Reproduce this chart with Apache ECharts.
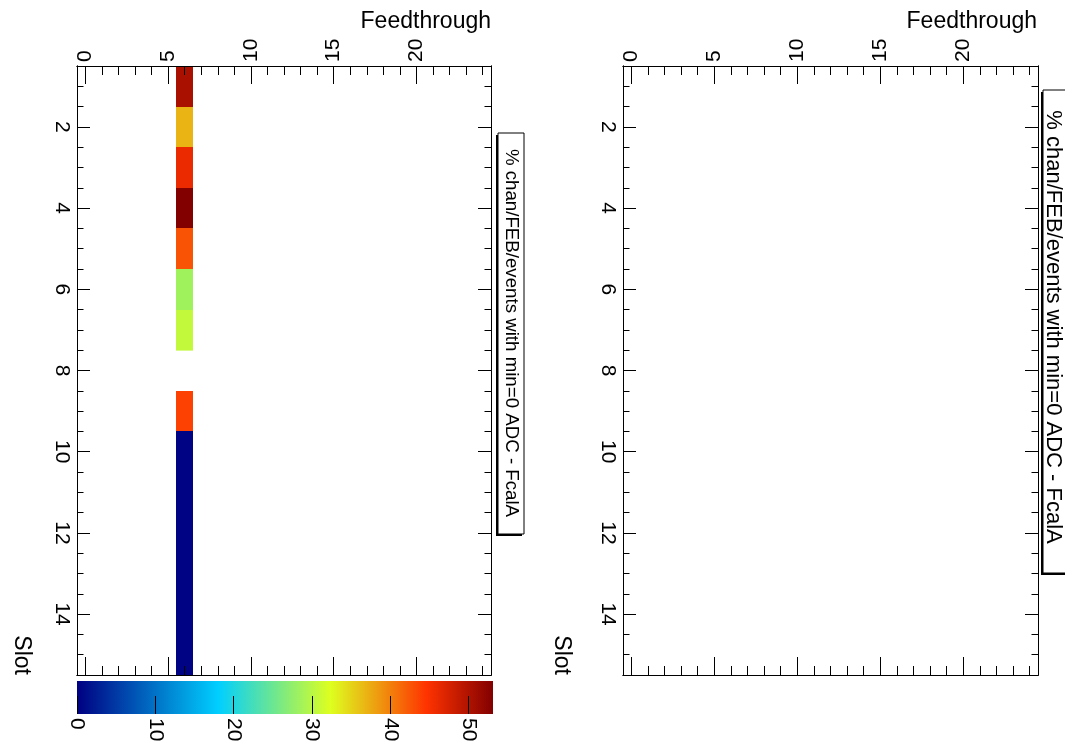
<!DOCTYPE html>
<html><head><meta charset="utf-8">
<script src="https://cdn.jsdelivr.net/npm/echarts@6/dist/echarts.min.js"></script>
<style>html,body{margin:0;padding:0;background:#fff}#c{width:1065px;height:745px}</style>
</head><body><div id="c"></div>
<script>
// ---- data ----
const feedthroughs = [6, 6, 6, 6, 6, 6, 6, 6, 6, 6, 6, 6, 6, 6];
const slots        = [1, 2, 3, 4, 5, 6, 7, 9, 10, 11, 12, 13, 14, 15];
const values       = [50.4, 36.9, 46.0, 53.1, 42.6, 28.4, 30.6, 43.8, 0.3, 0.3, 0.3, 0.3, 0.3, 0.3];
const zRange = [0, 53.1];
const xRange = [-0.5, 24.5];
const yRange = [0.5, 15.5];
const xTickMajor = [0, 5, 10, 15, 20];
const xTickMinor = [0, 1, 2, 3, 4, 5, 6, 7, 8, 9, 10, 11, 12, 13, 14, 15, 16, 17, 18, 19, 20, 21, 22, 23, 24];
const yTickMajor = [2, 4, 6, 8, 10, 12, 14];
const yTickMinor = [1, 1.5, 2, 2.5, 3, 3.5, 4, 4.5, 5, 5.5, 6, 6.5, 7, 7.5, 8, 8.5, 9, 9.5, 10, 10.5, 11, 11.5, 12, 12.5, 13, 13.5, 14, 14.5, 15];
const zTicks = [0, 10, 20, 30, 40, 50];
const xTitle = 'Feedthrough';
const yTitle = 'Slot';
const histTitle = '% chan/FEB/events with min=0 ADC - FcalA';
const paletteStops  = [0, 0.34, 0.61, 0.84, 1];
const paletteColors = ['#000082', '#00cfff', '#deff1f', '#ff3300', '#820000'];

// ---- helpers ----
const FONT = '"Liberation Sans", Arial, Helvetica, sans-serif';
function hexToRgb(h){ return [parseInt(h.substr(1,2),16), parseInt(h.substr(3,2),16), parseInt(h.substr(5,2),16)]; }
function buildPalette(n){
  const out = [];
  for (let i = 0; i < n; i++) {
    const t = i / (n - 1);
    let k = 0;
    while (k < paletteStops.length - 2 && t > paletteStops[k + 1]) k++;
    const f = (t - paletteStops[k]) / (paletteStops[k + 1] - paletteStops[k]);
    const a = hexToRgb(paletteColors[k]), b = hexToRgb(paletteColors[k + 1]);
    const c = a.map((v, j) => Math.round(v + (b[j] - v) * f));
    out.push('rgb(' + c.join(',') + ')');
  }
  return out;
}
const line = { color: '#000', width: 1 };

function xAx(gi, pos, len, ticks, labels) {
  return {
    type: 'value', gridIndex: gi, position: pos, min: xRange[0], max: xRange[1], z: 5,
    axisLine: { show: true, onZero: false, lineStyle: line },
    splitLine: { show: false },
    axisTick: { show: true, inside: true, length: len, customValues: ticks, lineStyle: line },
    axisLabel: labels ? { show: true, customValues: labels, rotate: -90, margin: 4, fontSize: 21, color: '#000', fontFamily: FONT } : { show: false }
  };
}
function yAx(gi, pos, len, ticks, labels) {
  return {
    type: 'value', gridIndex: gi, position: pos, min: yRange[0], max: yRange[1], inverse: true, z: 5,
    axisLine: { show: true, onZero: false, lineStyle: line },
    splitLine: { show: false },
    axisTick: { show: true, inside: true, length: len, customValues: ticks, lineStyle: line },
    axisLabel: labels ? { show: true, customValues: labels, rotate: -90, margin: 5, fontSize: 21, color: '#000', fontFamily: FONT } : { show: false }
  };
}

const xAxes = [], yAxes = [];
[0, 1].forEach(gi => {
  xAxes.push(xAx(gi, 'top', 18, xTickMajor, xTickMajor));
  xAxes.push(xAx(gi, 'top', 9, xTickMinor, null));
  xAxes.push(xAx(gi, 'bottom', 18, xTickMajor, null));
  xAxes.push(xAx(gi, 'bottom', 9, xTickMinor, null));
  yAxes.push(yAx(gi, 'left', 13, yTickMajor, yTickMajor));
  yAxes.push(yAx(gi, 'left', 6.5, yTickMinor, null));
  yAxes.push(yAx(gi, 'right', 13, yTickMajor, null));
  yAxes.push(yAx(gi, 'right', 6.5, yTickMinor, null));
});
// colour bar axes (grid 2)
const cbX = xAxes.length, cbY = yAxes.length;
xAxes.push({
  type: 'value', gridIndex: 2, position: 'bottom', min: zRange[0], max: zRange[1], z: 5,
  axisLine: { show: false }, splitLine: { show: false },
  axisTick: { show: true, inside: true, length: 18, customValues: zTicks, lineStyle: line },
  axisLabel: { show: true, customValues: zTicks, rotate: -90, margin: 4, fontSize: 21, color: '#000', fontFamily: FONT }
});
yAxes.push({ type: 'value', gridIndex: 2, min: 0, max: 1, show: false });

const cells = slots.map((s, i) => [feedthroughs[i], s, values[i]]);

function titleBox(x, y, w, h, cx, cy, fs) {
  return [
    { type: 'rect', shape: { x: x - 2, y: y + 2, width: w, height: h }, style: { fill: '#000' }, z: 10 },
    { type: 'rect', shape: { x: x, y: y, width: w, height: h }, style: { fill: '#fff', stroke: '#000', lineWidth: 1 }, z: 11 },
    { type: 'text', x: cx, y: cy, rotation: -Math.PI / 2, z: 12,
      style: { text: histTitle, fontSize: fs, fontFamily: FONT, fill: '#000', align: 'center', verticalAlign: 'middle' } }
  ];
}

const chart = echarts.init(document.getElementById('c'), null, { renderer: 'canvas' });
chart.setOption({
  backgroundColor: '#fff',
  animation: false,
  grid: [
    { left: 77, top: 66, width: 414, height: 609 },
    { left: 623, top: 66, width: 415, height: 609 },
    { left: 77, top: 681, width: 416, height: 33 }
  ],
  xAxis: xAxes,
  yAxis: yAxes,
  visualMap: {
    type: 'continuous', show: false, seriesIndex: 0, dimension: 2,
    min: zRange[0], max: zRange[1], inRange: { color: buildPalette(101) }
  },
  series: [
    {
      type: 'custom', xAxisIndex: 0, yAxisIndex: 0, data: cells, encode: { x: 0, y: 1 },
      renderItem: function (params, api) {
        const x = api.value(0), y = api.value(1);
        const p0 = api.coord([x - 0.5, y - 0.5]);
        const p1 = api.coord([x + 0.5, y + 0.5]);
        const x0 = Math.round(Math.min(p0[0], p1[0])), x1 = Math.round(Math.max(p0[0], p1[0]));
        const y0 = Math.round(Math.min(p0[1], p1[1])), y1 = Math.round(Math.max(p0[1], p1[1]));
        return { type: 'rect',
          shape: { x: x0, y: y0, width: x1 - x0, height: y1 - y0 + 0.6 },
          style: { fill: api.visual('color') } };
      }
    },
    {
      type: 'custom', xAxisIndex: cbX, yAxisIndex: cbY, data: [[zRange[0], zRange[1]]], encode: { x: [0, 1] },
      renderItem: function (params, api) {
        const p0 = api.coord([api.value(0), 0]);
        const p1 = api.coord([api.value(1), 1]);
        const stops = paletteStops.map((s, i) => ({ offset: s, color: paletteColors[i] }));
        return { type: 'rect',
          shape: { x: p0[0], y: p1[1], width: p1[0] - p0[0], height: p0[1] - p1[1] },
          style: { fill: new echarts.graphic.LinearGradient(0, 0, 1, 0, stops) } };
      }
    }
  ],
  graphic: [
    { type: 'text', x: 491, y: 22, style: { text: xTitle, fontSize: 23, fontFamily: FONT, fill: '#000', align: 'right', verticalAlign: 'middle' } },
    { type: 'text', x: 1037, y: 22, style: { text: xTitle, fontSize: 23, fontFamily: FONT, fill: '#000', align: 'right', verticalAlign: 'middle' } },
    { type: 'text', x: 21, y: 675, rotation: -Math.PI / 2, style: { text: yTitle, fontSize: 23, fontFamily: FONT, fill: '#000', align: 'right', verticalAlign: 'middle' } },
    { type: 'text', x: 561, y: 675, rotation: -Math.PI / 2, style: { text: yTitle, fontSize: 23, fontFamily: FONT, fill: '#000', align: 'right', verticalAlign: 'middle' } }
  ].concat(titleBox(498, 133, 26, 401, 511, 333, 18.7))
   .concat(titleBox(1043, 90, 30, 483, 1053, 327, 22))
});
</script>
</body></html>
